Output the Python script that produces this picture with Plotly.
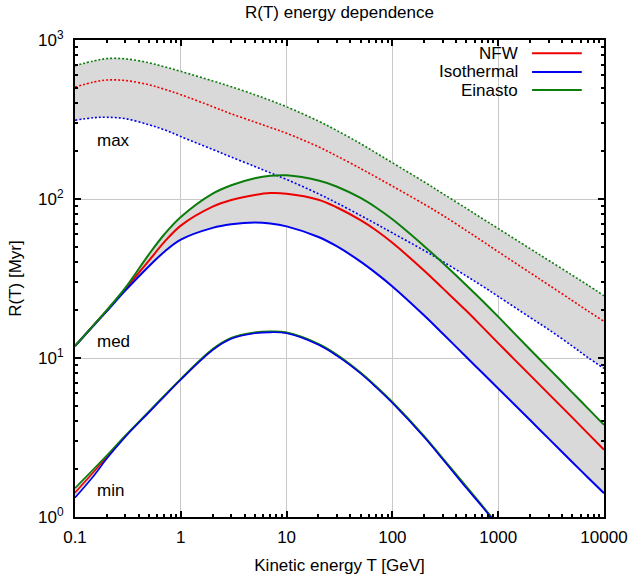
import plotly.graph_objects as go

# Kinetic energy T [GeV]
energy = [0.1, 0.15, 0.2, 0.3, 0.5, 0.7, 1, 2, 3, 5, 7, 10, 20, 30, 50, 70,
          100, 200, 300, 500, 700, 1000, 2000, 3000, 5000, 7000, 10000]

# "max" propagation model  (R in Myr)
nfw_max = [506, 544, 560, 556, 523, 490, 453, 381, 343, 305, 282, 259, 213, 186,
           155.5, 137.5, 120.5, 92.7, 78.8, 63.3, 54.6, 46.6, 34.4, 28.8, 23.0, 19.8, 17.0]
iso_max = [313, 324.5, 326.5, 320, 293, 272.3, 247, 205, 183.6, 160, 146, 132.7, 107.8,
           94.3, 78.8, 69.8, 61.2, 47.4, 40.4, 32.8, 28.5, 24.4, 18.0, 15.1, 11.9, 10.1, 8.6]
ein_max = [689, 738, 764, 761, 719, 679, 635, 553, 508, 453, 417, 380, 309, 269,
           223, 195, 169, 128, 108, 87.3, 75.7, 65.2, 48.7, 41.1, 33.2, 28.8, 24.6]

# "med" propagation model
nfw_med = [11.9, 16.1, 19.9, 27.2, 41.0, 53.7, 68.0, 89.5, 98.5, 106, 109, 108, 99.0,
           88.4, 73.6, 63.6, 53.0, 35.4, 27.4, 19.8, 15.8, 12.4, 7.80, 5.95, 4.23, 3.37, 2.65]
iso_med = [11.9, 16.0, 19.7, 26.6, 37.8, 46.6, 55.5, 65.8, 69.3, 71.2, 70.2, 67.3, 57.7,
           50.3, 40.4, 34.2, 28.2, 18.5, 14.2, 10.15, 8.13, 6.43, 4.07, 3.11, 2.22, 1.78, 1.41]
ein_med = [11.9, 16.1, 20.0, 27.7, 44.9, 60.0, 77.0, 108, 122, 135, 140, 141, 130.6,
           119.5, 101.5, 88.4, 74.5, 50.5, 39.6, 28.7, 23.1, 18.2, 11.3, 8.61, 6.08, 4.84, 3.80]

# "min" propagation model (falls below the axis just before 1000 GeV)
energy_min = energy[:22]
nfw_min = [1.42, 1.92, 2.38, 3.23, 4.58, 5.77, 7.35, 11.3, 13.3, 14.4, 14.6, 14.4,
           12.2, 10.4, 8.05, 6.60, 5.25, 3.20, 2.32, 1.54, 1.18, 0.88]
iso_min = [1.32, 1.81, 2.33, 3.20, 4.55, 5.73, 7.30, 11.2, 13.2, 14.3, 14.5, 14.3,
           12.1, 10.3, 7.99, 6.55, 5.21, 3.17, 2.30, 1.52, 1.17, 0.87]
ein_min = [1.52, 2.00, 2.44, 3.26, 4.62, 5.82, 7.41, 11.4, 13.4, 14.5, 14.7, 14.5,
           12.3, 10.5, 8.12, 6.66, 5.30, 3.23, 2.34, 1.56, 1.19, 0.89]

x_ticks = [0.1, 1, 10, 100, 1000, 10000]
x_tick_text = ["0.1", "1", "10", "100", "1000", "10000"]
y_ticks = [1, 10, 100, 1000]
y_tick_text = ["10<sup>0</sup>", "10<sup>1</sup>", "10<sup>2</sup>", "10<sup>3</sup>"]

RED = "#ee0000"
BLUE = "#0000ee"
GREEN = "#0b7d0b"
FILL = "#d9d9d9"
FONT = "Liberation Sans, Arial, sans-serif"

fig = go.Figure()

# grey bands (Isothermal -> Einasto)
for xs, lo, hi in [(energy, iso_max, ein_max), (energy, iso_med, ein_med),
                   (energy_min, iso_min, ein_min)]:
    fig.add_trace(go.Scatter(x=xs, y=lo, mode="lines", line=dict(width=0, shape="spline"),
                             showlegend=False, hoverinfo="skip"))
    fig.add_trace(go.Scatter(x=xs, y=hi, mode="lines", line=dict(width=0, shape="spline"),
                             fill="tonexty", fillcolor=FILL, showlegend=False,
                             hoverinfo="skip"))

dots = "2px,2px"
# max: dotted
for name, ys, col in [("NFW", nfw_max, RED), ("Isothermal", iso_max, BLUE),
                      ("Einasto", ein_max, GREEN)]:
    fig.add_trace(go.Scatter(x=energy, y=ys, mode="lines", name=name + " max",
                             line=dict(color=col, width=1.6, dash=dots, shape="spline"),
                             showlegend=False))
# med: solid
for name, ys, col in [("NFW", nfw_med, RED), ("Isothermal", iso_med, BLUE),
                      ("Einasto", ein_med, GREEN)]:
    fig.add_trace(go.Scatter(x=energy, y=ys, mode="lines", name=name + " med",
                             line=dict(color=col, width=2, shape="spline"),
                             showlegend=False))
# min
for name, ys, col in [("NFW", nfw_min, RED), ("Einasto", ein_min, GREEN),
                      ("Isothermal", iso_min, BLUE)]:
    fig.add_trace(go.Scatter(x=energy_min, y=ys, mode="lines", name=name + " min",
                             line=dict(color=col, width=1.6, shape="spline"),
                             showlegend=False))

minor_x = [m * 10 ** e for e in range(-1, 4) for m in range(2, 10)]
minor_y = [m * 10 ** e for e in range(0, 3) for m in range(2, 10)]

axis_common = dict(
    type="log", showline=True, linecolor="black", linewidth=2, mirror="allticks",
    ticks="inside", ticklen=6, tickwidth=1.5, tickcolor="black", automargin=False,
    showgrid=True, gridcolor="#c8c8c8", gridwidth=1, zeroline=False,
    tickfont=dict(family=FONT, size=17, color="black"),
)

fig.update_xaxes(**axis_common, range=[-1, 4], tickmode="array", tickvals=x_ticks,
                 ticktext=x_tick_text, ticklabelstandoff=4,
                 minor=dict(tickmode="array", tickvals=minor_x, ticks="inside",
                            ticklen=3, tickwidth=1.5, tickcolor="black", showgrid=False),
                 title=dict(text="Kinetic energy T [GeV]", standoff=13,
                            font=dict(family=FONT, size=17, color="black")))
fig.update_yaxes(**axis_common, range=[0, 3], tickmode="array", tickvals=y_ticks,
                 ticktext=y_tick_text, ticklabelstandoff=6,
                 minor=dict(tickmode="array", tickvals=minor_y, ticks="inside",
                            ticklen=3, tickwidth=1.5, tickcolor="black", showgrid=False),
                 title=dict(text="R(T) [Myr]", standoff=12,
                            font=dict(family=FONT, size=17, color="black")))

annotations = [
    dict(text="max", x=0.038, y=0.790),
    dict(text="med", x=0.038, y=0.367),
    dict(text="min", x=0.038, y=0.055),
]
annotations = [dict(a, xref="paper", yref="paper", xanchor="left", yanchor="middle",
                    showarrow=False, font=dict(family=FONT, size=17, color="black"))
               for a in annotations]

legend_items = [("NFW", RED, 0.972), ("Isothermal", BLUE, 0.933), ("Einasto", GREEN, 0.895)]
shapes = [dict(type="rect", xref="paper", yref="paper", x0=0.67, x1=0.995, y0=0.874,
               y1=0.995, fillcolor="white", line=dict(width=0), layer="between")]
for label, col, yy in legend_items:
    annotations.append(dict(text=label, xref="paper", yref="paper", x=0.842, y=yy,
                            xanchor="right", yanchor="middle", showarrow=False,
                            font=dict(family=FONT, size=17, color="black")))
    shapes.append(dict(type="line", xref="paper", yref="paper", x0=0.864, x1=0.958,
                       y0=yy, y1=yy, line=dict(color=col, width=2), layer="above"))

fig.update_layout(
    width=632, height=580,
    margin=dict(l=75, r=28, t=40, b=63),
    paper_bgcolor="white", plot_bgcolor="white",
    title=dict(text="R(T) energy dependence", x=0.5, xref="paper", xanchor="center",
               y=0.979, yref="container", yanchor="middle",
               font=dict(family=FONT, size=17, color="black")),
    annotations=annotations, shapes=shapes,
    showlegend=False,
)

fig.write_html("out.html")
